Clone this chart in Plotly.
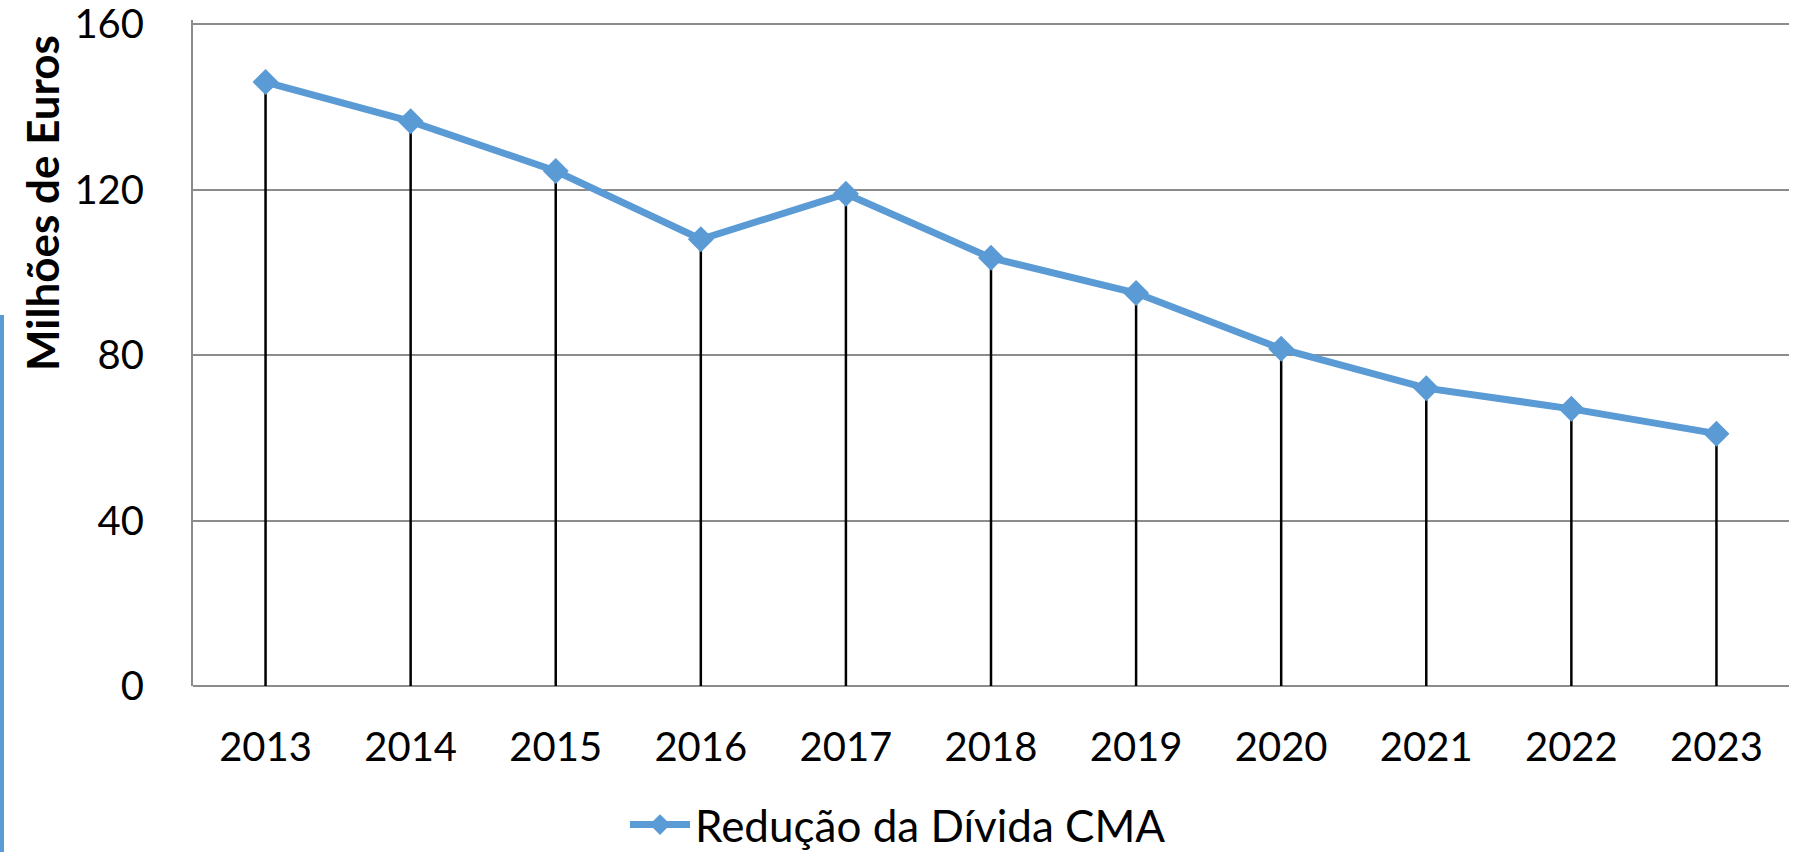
import plotly.graph_objects as go

years = ["2013", "2014", "2015", "2016", "2017", "2018", "2019", "2020", "2021", "2022", "2023"]
values = [146, 136.5, 124.5, 108, 119, 103.5, 95, 81.5, 72, 67, 61]
series_name = "Redução da Dívida CMA"
y_title = "Milhões de Euros"
y_ticks = [0, 40, 80, 120, 160]

W, H = 1793, 852
L, R, B = 193, 4, 166
YMAX = 161
ppu = (686 - 24) / 160.0          # pixels per unit
T = round(686 - YMAX * ppu)
pw, ph = W - L - R, H - T - B
FONT = "Lato"
BLUE = "#5B9BD5"
GRID = "#8c8c8c"

def px_y(p):                       # page pixel -> paper y
    return (H - B - p) / ph

def px_x(p):                       # page pixel -> paper x
    return (p - L) / pw

# drop lines from each point down to zero
dx, dy = [], []
for yr, v in zip(years, values):
    dx += [yr, yr, None]
    dy += [v, 0, None]

fig = go.Figure()
fig.add_trace(go.Scatter(x=dx, y=dy, mode="lines", line=dict(color="black", width=2.5),
                         showlegend=False, hoverinfo="skip"))
fig.add_trace(go.Scatter(x=years, y=values, mode="lines+markers", name=series_name,
                         line=dict(color=BLUE, width=7),
                         marker=dict(symbol="diamond", size=20, color=BLUE)))

fig.update_layout(
    width=W, height=H,
    margin=dict(l=L, r=R, t=T, b=B, autoexpand=False),
    paper_bgcolor="white", plot_bgcolor="white",
    font=dict(family=FONT, size=40, color="black"),
    showlegend=True,
    legend=dict(orientation="h", x=px_x(625), y=px_y(825),
                xanchor="left", yanchor="middle", font=dict(size=44, family=FONT),
                itemwidth=60, bgcolor="rgba(0,0,0,0)"),
    xaxis=dict(type="category", range=[-0.5, len(years) - 0.5], showgrid=False,
               showline=False, zeroline=False, ticks="", ticklabelstandoff=34,
               automargin=False, tickfont=dict(size=40, family=FONT)),
    yaxis=dict(range=[0, YMAX], tickvals=y_ticks, showgrid=True, gridcolor=GRID, gridwidth=2,
               showline=True, linecolor=GRID, linewidth=2, zeroline=True, zerolinecolor=GRID,
               zerolinewidth=2, ticks="", ticklabelstandoff=39, automargin=False,
               ticklabeloverflow="allow", tickfont=dict(size=40, family=FONT)),
    annotations=[dict(text="<b>" + y_title + "</b>", textangle=-90, xref="paper", yref="paper",
                      x=px_x(42), y=px_y(203), xanchor="center", yanchor="middle",
                      showarrow=False, font=dict(size=44, family=FONT, color="black"))],
    shapes=[dict(type="line", xref="paper", yref="paper",
                 x0=px_x(2), x1=px_x(2), y0=px_y(315), y1=px_y(H + 5),
                 line=dict(color=BLUE, width=4))],
)

fig.write_html("out.html", config={"displayModeBar": False},
               post_script="document.body.style.margin='0';document.body.style.overflow='hidden';")
